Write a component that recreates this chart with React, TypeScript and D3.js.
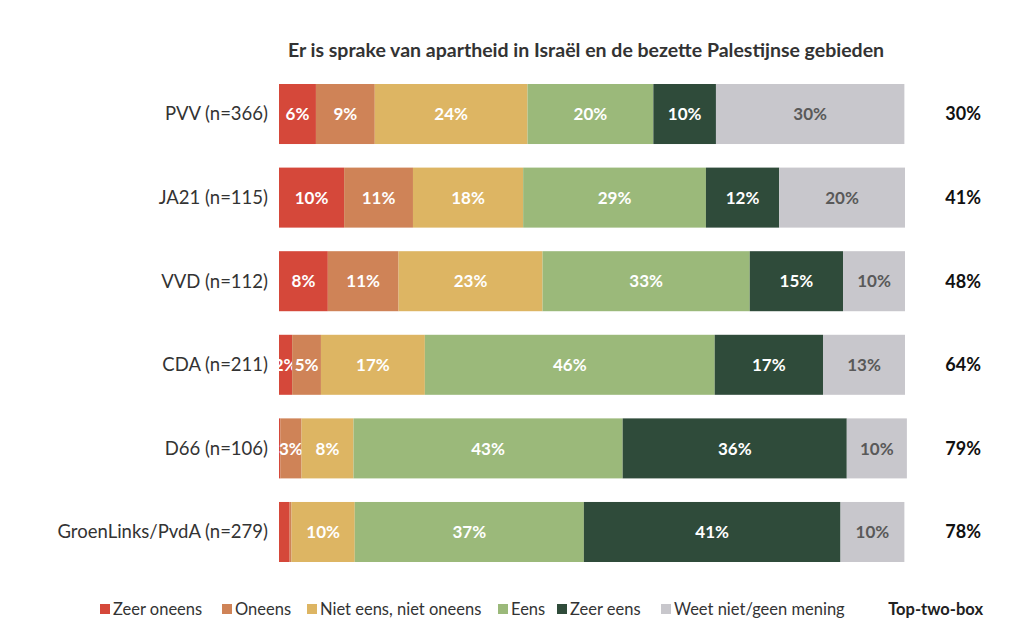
import React from 'react';
import * as d3 from 'd3';

// Parties (rows) and their sample sizes
const parties = ['PVV (n=366)', 'JA21 (n=115)', 'VVD (n=112)', 'CDA (n=211)', 'D66 (n=106)', 'GroenLinks/PvdA (n=279)'];

const answers = ['Zeer oneens', 'Oneens', 'Niet eens, niet oneens', 'Eens', 'Zeer eens', 'Weet niet/geen mening'];
const answerColors = ['#D5483A', '#CF8357', '#DDB563', '#9BB97A', '#2F4B3A', '#C8C7CC'];

// Share per answer, per party (percent)
const zeerOneens = [5.9, 10.4, 7.8, 2.1, 0.2, 1.7];
const oneens = [9.4, 11.0, 11.3, 4.6, 3.4, 0.3];
const neutraal = [24.4, 17.6, 23.0, 16.6, 8.3, 10.1];
const eens = [20.1, 29.2, 33.1, 46.3, 43.0, 36.6];
const zeerEens = [10.0, 11.7, 14.9, 17.3, 35.8, 41.0];
const weetNiet = [30.1, 20.1, 9.9, 13.1, 9.6, 10.2];

const topTwoBox = ['30%', '41%', '48%', '64%', '79%', '78%'];

const title = 'Er is sprake van apartheid in Israël en de bezette Palestijnse gebieden';

const W = 1024;
const H = 643;
const font = 'Lato, "Open Sans", sans-serif';

export default function App() {
  const series = [zeerOneens, oneens, neutraal, eens, zeerEens, weetNiet];
  const rows = parties.map((p, i) => {
    const o: Record<string, number | string> = { party: p };
    answers.forEach((a, j) => (o[a] = series[j][i]));
    return o;
  });
  const stacked = d3.stack<any>().keys(answers)(rows);

  const x = d3.scaleLinear().domain([0, 100]).range([279, 905]);
  const y = d3.scaleBand().domain(parties).range([72.3, 573.7]).paddingInner(0.282).paddingOuter(0.14);

  // legend layout
  const legendX = [100, 222, 307, 498, 557, 661];

  return (
    <svg width={W} height={H} style={{ display: 'block', position: 'absolute', left: 0, top: 0 }} fontFamily={font}>
      <rect width={W} height={H} fill="#fff" />
      <text x={586} y={57} textAnchor="middle" fontSize={19.5} fontWeight={700} fill="#333">
        {title}
      </text>

      {parties.map((p) => (
        <text key={p} x={268} y={(y(p) ?? 0) + y.bandwidth() / 2} dy="0.35em" textAnchor="end" fontSize={18.5} fill="#333">
          {p}
        </text>
      ))}

      {stacked.map((s, j) => (
        <g key={s.key}>
          {s.map((d, i) => {
            const v = d[1] - d[0];
            const x0 = x(d[0]);
            const w = x(d[1]) - x0;
            const yy = y(parties[i]) ?? 0;
            return (
              <g key={i}>
                <rect x={x0} y={yy} width={Math.max(0, w)} height={y.bandwidth()} fill={answerColors[j]} />
                {v >= 2 && (
                  <text
                    x={x0 + w / 2}
                    y={yy + y.bandwidth() / 2}
                    dy="0.36em"
                    textAnchor="middle"
                    fontSize={17}
                    fontWeight={700}
                    fill={j === 5 ? '#595959' : '#fff'}
                  >
                    {Math.round(v)}%
                  </text>
                )}
              </g>
            );
          })}
        </g>
      ))}

      {parties.map((p, i) => (
        <text key={p} x={981} y={(y(p) ?? 0) + y.bandwidth() / 2} dy="0.36em" textAnchor="end" fontSize={18} fontWeight={700} fill="#111">
          {topTwoBox[i]}
        </text>
      ))}

      {answers.map((a, j) => (
        <g key={a} transform={`translate(${legendX[j]},609)`}>
          <rect x={0} y={-5} width={10} height={10} fill={answerColors[j]} />
          <text x={13} y={0} dy="0.35em" fontSize={16.5} fill="#333">
            {a}
          </text>
        </g>
      ))}
      <text x={983} y={609} dy="0.35em" textAnchor="end" fontSize={16.5} fontWeight={700} fill="#222">
        Top-two-box
      </text>
    </svg>
  );
}
